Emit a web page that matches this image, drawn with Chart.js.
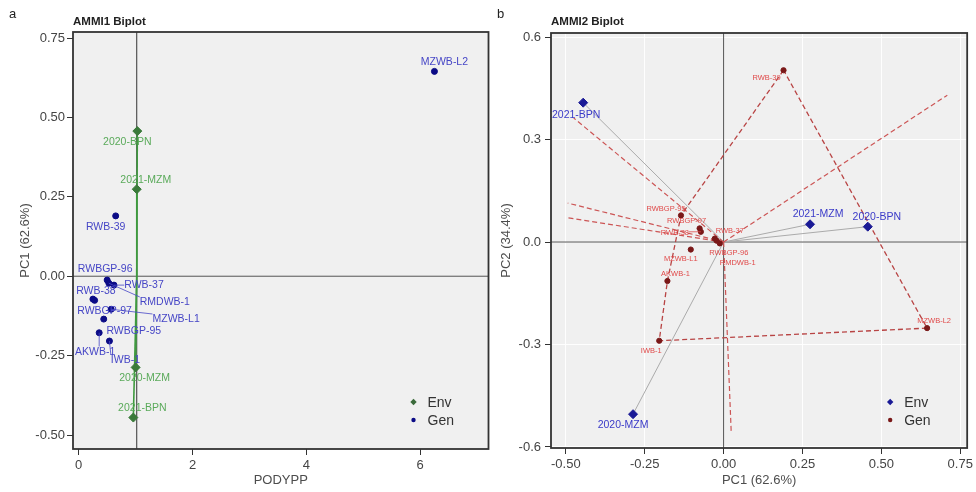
<!DOCTYPE html>
<html>
<head>
<meta charset="utf-8">
<script src="https://cdn.jsdelivr.net/npm/chart.js@4.4.1/dist/chart.umd.min.js"></script>
<style>
  html, body { margin: 0; padding: 0; background: #fff; }
  #wrap { position: relative; width: 976px; height: 492px; }
  .panel { position: absolute; top: 0; }
  #panelA { left: 0; z-index: 1; }
  #panelB { left: 490px; z-index: 2; }
</style>
</head>
<body>
<div id="wrap">
  <div class="panel" id="panelA"><canvas id="chartA" width="494" height="492"></canvas></div>
  <div class="panel" id="panelB"><canvas id="chartB" width="486" height="492"></canvas></div>
</div>
<script>
// ---- data ----
const envNames = ['2020-BPN', '2021-MZM', '2020-MZM', '2021-BPN'];
const envMean  = [1.03, 1.02, 1.00, 0.96];          // PODYPP (panel a)
const envPC1   = [0.457, 0.274, -0.287, -0.445];
const envPC2   = [0.045, 0.052, -0.504, 0.408];

const genNames = ['MZWB-L2', 'RWB-39', 'RWBGP-96', 'RWB-37', 'RMDWB-1', 'RWB-38',
                  'RWBGP-97', 'MZWB-L1', 'RWBGP-95', 'AKWB-1', 'IWB-1'];
const genMean  = [6.25, 0.65, 0.50, 0.62, 0.53, 0.25, 0.28, 0.57, 0.44, 0.36, 0.54];
const genPC1   = [0.645, 0.190, -0.012, -0.028, -0.022, -0.072, -0.076, -0.104, -0.135, -0.178, -0.204];
const genPC2   = [-0.252, 0.503, -0.004, 0.010, 0.004, 0.030, 0.040, -0.022, 0.078, -0.114, -0.289];

const grandMean = 1.02;

// axis ticks
const xTicksA = [0, 2, 4, 6];
const yTicksA = [-0.50, -0.25, 0.00, 0.25, 0.50, 0.75];
const xTicksB = [-0.50, -0.25, 0.00, 0.25, 0.50, 0.75];
const yTicksB = [-0.6, -0.3, 0.0, 0.3, 0.6];

// polygon (which-won-where) vertices and sector rays for panel b
const hullOrder = ['RWB-39', 'RWBGP-95', 'AKWB-1', 'IWB-1', 'MZWB-L2', 'RWB-39'];
const rayX = [-0.475, -0.494, -0.494, 0.709, 0.024];
const rayY = [0.363, 0.114, 0.071, 0.430, -0.553];

// label placement (pixel offsets from the point; third item = leader line)
const labelOffA = {
  '2020-BPN': [-10, 11], '2021-MZM': [9, -9], '2020-MZM': [9, 11], '2021-BPN': [9, -9],
  'MZWB-L2': [10, -9], 'RWB-39': [-10, 11], 'RWBGP-96': [-2, -11], 'RWB-37': [30, 0, true],
  'RMDWB-1': [56, 19, true], 'RWB-38': [3, -8], 'RWBGP-97': [10, 11], 'MZWB-L1': [65, 10, true],
  'RWBGP-95': [30, 12], 'AKWB-1': [-4, 19, true], 'IWB-1': [16, 19, true]
};
const labelOffB = {
  '2021-BPN': [-7, 12], '2021-MZM': [8, -10], '2020-BPN': [9, -10], '2020-MZM': [-10, 11],
  'RWB-39': [-17, 8], 'RWBGP-95': [-15, -6], 'RWBGP-97': [-13, -7], 'RWB-37': [15, -8],
  'RWB-38': [-26, 1, true], 'RWBGP-96': [9, 10], 'MZWB-L1': [-10, 9], 'RMDWB-1': [21, 22],
  'AKWB-1': [8, -7], 'IWB-1': [-8, 10], 'MZWB-L2': [7, -7]
};

const FONT = "'Liberation Sans', Arial, sans-serif";

// draws names next to the points, with optional leader lines
const pointLabels = {
  id: 'pointLabels',
  afterDatasetsDraw(chart) {
    const ctx = chart.ctx;
    chart.data.datasets.forEach((ds, di) => {
      if (!ds.names) return;
      const meta = chart.getDatasetMeta(di);
      ctx.save();
      ctx.font = ds.labelSize + 'px ' + FONT;
      ctx.fillStyle = ds.labelColor;
      ctx.strokeStyle = ds.labelColor;
      ctx.textAlign = 'center';
      ctx.textBaseline = 'middle';
      meta.data.forEach((pt, i) => {
        const name = ds.names[i];
        const off = ds.offsets[name] || [0, -10];
        const lx = pt.x + off[0], ly = pt.y + off[1];
        if (off[2]) {
          const w = ctx.measureText(name).width / 2, h = ds.labelSize / 2;
          const ex = Math.min(Math.max(pt.x, lx - w), lx + w);
          const ey = Math.min(Math.max(pt.y, ly - h), ly + h);
          ctx.lineWidth = 0.8;
          ctx.beginPath();
          ctx.moveTo(pt.x, pt.y);
          ctx.lineTo(ex, ey);
          ctx.stroke();
        }
        ctx.fillText(name, lx, ly);
      });
      ctx.restore();
    });
  }
};

// panel background, frame, titles and inside legend
function makeFrame(letter, title, legend) {
  return {
    id: 'frame',
    beforeDraw(chart) {
      const a = chart.chartArea, ctx = chart.ctx;
      ctx.save();
      ctx.fillStyle = '#f0f0f0';
      ctx.fillRect(a.left, a.top, a.right - a.left, a.bottom - a.top);
      ctx.restore();
    },
    afterDraw(chart) {
      const a = chart.chartArea, ctx = chart.ctx;
      ctx.save();
      ctx.strokeStyle = '#333';
      ctx.lineWidth = 1.8;
      ctx.strokeRect(a.left, a.top, a.right - a.left, a.bottom - a.top);

      ctx.fillStyle = '#222';
      ctx.textBaseline = 'middle';
      ctx.textAlign = 'left';
      ctx.font = '13px ' + FONT;
      ctx.fillText(letter, letter === 'a' ? 9 : 7, 14);
      ctx.font = 'bold 11.5px ' + FONT;
      ctx.fillText(title, a.left, 22);

      legend.forEach((item, i) => {
        const mx = a.right - legend.dx, my = a.bottom - legend.dy + i * 18;
        ctx.fillStyle = item.color;
        ctx.beginPath();
        if (item.diamond) {
          ctx.moveTo(mx, my - 3.2); ctx.lineTo(mx + 3.2, my); ctx.lineTo(mx, my + 3.2); ctx.lineTo(mx - 3.2, my);
        } else {
          ctx.arc(mx, my, 2.2, 0, Math.PI * 2);
        }
        ctx.fill();
        ctx.fillStyle = '#333';
        ctx.font = '14px ' + FONT;
        ctx.fillText(item.text, mx + 14, my + 1);
      });
      ctx.restore();
    }
  };
}

function makeScale(o) {
  return {
    type: 'linear',
    min: o.min,
    max: o.max,
    afterBuildTicks: s => { s.ticks = o.ticks.map(v => ({ value: v })); },
    afterFit: s => { if (o.isX) s.height = o.size; else s.width = o.size; },
    ticks: {
      color: '#444',
      font: { family: FONT, size: 13 },
      padding: o.pad,
      maxRotation: 0,
      autoSkip: false,
      callback: v => o.fmt(v)
    },
    grid: {
      drawOnChartArea: o.grid,
      color: 'rgba(255,255,255,0.9)',
      tickColor: '#333',
      tickLength: 6
    },
    border: { display: false },
    title: {
      display: true,
      text: o.title,
      color: '#4d4d4d',
      font: { family: FONT, size: 13 },
      padding: o.titlePad
    }
  };
}

function segment(x0, y0, x1, y1, color, width, dash, order) {
  return {
    data: [{ x: x0, y: y0 }, { x: x1, y: y1 }],
    showLine: true,
    borderColor: color,
    borderWidth: width,
    borderDash: dash || [],
    pointRadius: 0,
    order: order
  };
}

// ---------- panel a : AMMI1 ----------
const xMinA = -0.1, xMaxA = 7.2, yMinA = -0.544, yMaxA = 0.769;
const dsA = [];
dsA.push(segment(grandMean, yMinA, grandMean, yMaxA, '#333', 1, null, 5));
dsA.push(segment(xMinA, 0, xMaxA, 0, '#555', 1, null, 5));
envNames.forEach((n, i) => dsA.push(segment(envMean[i], envPC1[i], grandMean, 0, '#3f9a3f', 1.6, null, 4)));
dsA.push({
  data: envNames.map((n, i) => ({ x: envMean[i], y: envPC1[i] })),
  names: envNames, offsets: labelOffA, labelSize: 10.5, labelColor: '#5aaa5a',
  pointStyle: 'rectRot', pointRadius: 4.5, backgroundColor: '#3a7a3a', borderColor: '#3a7a3a', order: 0
});
dsA.push({
  data: genNames.map((n, i) => ({ x: genMean[i], y: genPC1[i] })),
  names: genNames, offsets: labelOffA, labelSize: 10.5, labelColor: '#4646c6',
  pointStyle: 'circle', pointRadius: 3, backgroundColor: '#0b0b86', borderColor: '#0b0b86', order: 0
});

new Chart(document.getElementById('chartA'), {
  type: 'scatter',
  data: { datasets: dsA },
  options: {
    responsive: false,
    animation: false,
    layout: { padding: { left: 10, top: 32, right: 2, bottom: 4 } },
    plugins: { legend: { display: false }, tooltip: { enabled: false } },
    scales: {
      x: makeScale({ min: xMinA, max: xMaxA, ticks: xTicksA, fmt: v => String(v), isX: true, size: 39,
                     pad: 3, grid: false, title: 'PODYPP', titlePad: { top: 0, bottom: 0 } }),
      y: makeScale({ min: yMinA, max: yMaxA, ticks: yTicksA, fmt: v => v.toFixed(2), isX: false, size: 63,
                     pad: 2, grid: false, title: 'PC1 (62.6%)', titlePad: { top: 8, bottom: 0 } })
    }
  },
  plugins: [pointLabels, makeFrame('a', 'AMMI1 Biplot', Object.assign([
    { text: 'Env', color: '#3a6a3a', diamond: true },
    { text: 'Gen', color: '#0b0b86' }
  ], { dx: 75, dy: 47 }))]
});

// ---------- panel b : AMMI2 ----------
const xMinB = -0.547, xMaxB = 0.772, yMinB = -0.603, yMaxB = 0.612;
const dsB = [];
dsB.push(segment(0, yMinB, 0, yMaxB, '#555', 1, null, 6));
dsB.push(segment(xMinB, 0, xMaxB, 0, '#555', 1, null, 6));
envNames.forEach((n, i) => dsB.push(segment(0, 0, envPC1[i], envPC2[i], '#ababab', 1, null, 5)));
rayX.forEach((x, i) => dsB.push(segment(0, 0, x, rayY[i], '#cc5555', 1.2, [5, 3], 4)));
dsB.push({
  data: hullOrder.map(n => {
    const k = genNames.indexOf(n);
    return { x: genPC1[k], y: genPC2[k] };
  }),
  showLine: true, borderColor: '#b84444', borderWidth: 1.3, borderDash: [5, 3], pointRadius: 0, order: 3
});
dsB.push({
  data: envNames.map((n, i) => ({ x: envPC1[i], y: envPC2[i] })),
  names: envNames, offsets: labelOffB, labelSize: 10.5, labelColor: '#3a3ac8',
  pointStyle: 'rectRot', pointRadius: 4.5, backgroundColor: '#1a1a96', borderColor: '#1a1a96', order: 0
});
dsB.push({
  data: genNames.map((n, i) => ({ x: genPC1[i], y: genPC2[i] })),
  names: genNames, offsets: labelOffB, labelSize: 7.5, labelColor: '#e04a4a',
  pointStyle: 'circle', pointRadius: 2.6, backgroundColor: '#7a1818', borderColor: '#7a1818', order: 0
});

new Chart(document.getElementById('chartB'), {
  type: 'scatter',
  data: { datasets: dsB },
  options: {
    responsive: false,
    animation: false,
    layout: { padding: { left: 2, top: 33, right: 7, bottom: 4 } },
    plugins: { legend: { display: false }, tooltip: { enabled: false } },
    scales: {
      x: makeScale({ min: xMinB, max: xMaxB, ticks: xTicksB, fmt: v => v.toFixed(2), isX: true, size: 40,
                     pad: 3, grid: true, title: 'PC1 (62.6%)', titlePad: { top: 0, bottom: 0 } }),
      y: makeScale({ min: yMinB, max: yMaxB, ticks: yTicksB, fmt: v => v.toFixed(1), isX: false, size: 59,
                     pad: 4, grid: true, title: 'PC2 (34.4%)', titlePad: { top: 7, bottom: 0 } })
    }
  },
  plugins: [pointLabels, makeFrame('b', 'AMMI2 Biplot', Object.assign([
    { text: 'Env', color: '#1a1a96', diamond: true },
    { text: 'Gen', color: '#7a1818' }
  ], { dx: 77, dy: 46 }))]
});
</script>
</body>
</html>
